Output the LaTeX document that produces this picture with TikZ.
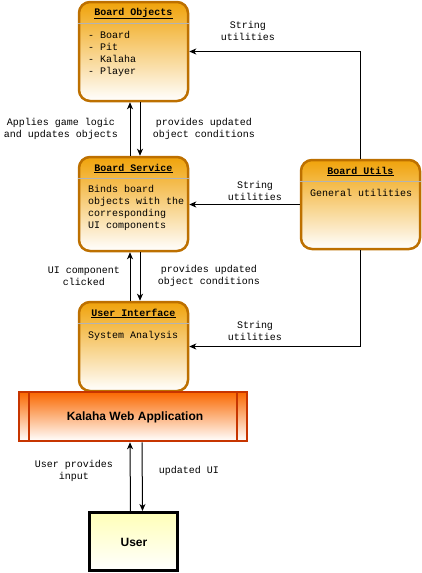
\documentclass[tikz,border=0pt]{standalone}
\usepackage{fontspec}
\setmainfont{Liberation Sans}
\setmonofont{Liberation Mono}
\usetikzlibrary{arrows.meta}
\definecolor{orfill}{HTML}{F0A30A}
\definecolor{orline}{HTML}{BD7000}
\definecolor{kfill}{HTML}{FA6800}
\definecolor{kline}{HTML}{C73500}
\definecolor{ufill}{HTML}{FFFFB8}
\definecolor{sepc}{HTML}{B3B3B3}
\begin{document}
\begin{tikzpicture}[x=1pt,y=-1pt,
  modbox/.style={draw=orline, line width=2.5pt, rounded corners=11pt,
    top color=orfill, bottom color=white, inner sep=0pt},
  ttl/.style={font=\ttfamily\bfseries\fontsize{10}{12}\selectfont, inner sep=0pt},
  body/.style={font=\ttfamily\fontsize{10}{12}\selectfont, align=left, inner sep=0pt, anchor=north west},
  lbl/.style={font=\ttfamily\fontsize{10}{12}\selectfont, align=center, inner sep=0pt},
  sepline/.style={draw=sepc, line width=1pt},
  arr/.style={draw=black, line width=1pt, -{Stealth[length=7pt,width=6pt,inset=2pt]}},
  plain/.style={draw=black, line width=1pt}
]
\useasboundingbox (0,0) rectangle (422,573);

% Board Objects
\node[modbox, minimum width=109pt, minimum height=99pt] (bo) at (133.5,51.5) {};
\node[ttl] (bot) at (133.5,13.5) {\underline{Board Objects}};
\draw[sepline] ([yshift=-23pt]bo.north west) -- ([yshift=-23pt]bo.north east);
\node[body] (bob) at (88,31) {- Board\\- Pit\\- Kalaha\\- Player};

% Board Service
\node[modbox, minimum width=109pt, minimum height=94pt] (bs) at (133.5,204) {};
\node[ttl] (bst) at (133.5,168.5) {\underline{Board Service}};
\draw[sepline] ([yshift=-23pt]bs.north west) -- ([yshift=-23pt]bs.north east);
\node[body] (bsb) at (88,185) {Binds board\\objects with the\\corresponding\\UI components};

% Board Utils
\node[modbox, minimum width=119pt, minimum height=89pt] (bu) at (360.5,204.5) {};
\node[ttl] (but) at (360.5,171.5) {\underline{Board Utils}};
\draw[sepline] ([yshift=-23pt]bu.north west) -- ([yshift=-23pt]bu.north east);
\node[body] (bub) at (310,189) {General utilities};

% User Interface
\node[modbox, minimum width=109pt, minimum height=89pt] (ui) at (133.5,346.5) {};
\node[ttl] (uit) at (133.5,313.5) {\underline{User Interface}};
\draw[sepline] ([yshift=-23pt]ui.north west) -- ([yshift=-23pt]ui.north east);
\node[body] (uib) at (88,331) {System Analysis};

% Kalaha Web Application
\node[draw=kline, line width=2.5pt, top color=kfill, bottom color=white,
  minimum width=228pt, minimum height=49pt, inner sep=0pt] (kw) at (133,416.5) {};
\draw[draw=kline, line width=2pt] ([xshift=11pt]kw.north west) -- ([xshift=11pt]kw.south west);
\draw[draw=kline, line width=2pt] ([xshift=-11pt]kw.north east) -- ([xshift=-11pt]kw.south east);
\node[font=\bfseries\fontsize{12}{14}\selectfont, inner sep=0pt] (kwt) at (135,417.5) {Kalaha Web Application};

% User
\node[draw=black, line width=3pt, top color=ufill, bottom color=white,
  minimum width=88pt, minimum height=58pt, inner sep=0pt] (us) at (133.5,541.5) {};
\node[font=\bfseries\fontsize{12}{14}\selectfont, inner sep=0pt] (ust) at (134,542.5) {User};

% connectors
\draw[arr] ([xshift=-3.5pt]bs.north) -- ([xshift=-3.5pt]bo.south);
\draw[arr] ([xshift=6.5pt]bo.south) -- ([xshift=6.5pt]bs.north);
\draw[arr] ([xshift=-3.5pt]ui.north) -- ([xshift=-3.5pt]bs.south);
\draw[arr] ([xshift=6.5pt]bs.south) -- ([xshift=6.5pt]ui.north);
\draw[arr] ([xshift=-3pt]us.north) -- ([xshift=-3pt]kw.south);
\draw[arr] ([xshift=9pt]kw.south) -- ([xshift=9pt]us.north);
\draw[arr] (bu.north) |- (bo.east);
\draw[arr] (bu.west) -- (bu.west -| bs.east);
\draw[arr] (bu.south) |- (ui.east);

% labels
\node[lbl] (l1) at (248,31) {String\\utilities};
\node[lbl] (l2) at (61,129) {Applies game logic\\and updates objects};
\node[lbl] (l3) at (204,129) {provides updated\\object conditions};
\node[lbl] (l4) at (255,191) {String\\utilities};
\node[lbl] (l5) at (84,276) {UI component\\clicked};
\node[lbl] (l6) at (209,276) {provides updated\\object conditions};
\node[lbl] (l7) at (255,331) {String\\utilities};
\node[lbl] (l8) at (74,471) {User provides\\input};
\node[lbl] (l9) at (189,471) {updated UI};
\end{tikzpicture}
\end{document}
